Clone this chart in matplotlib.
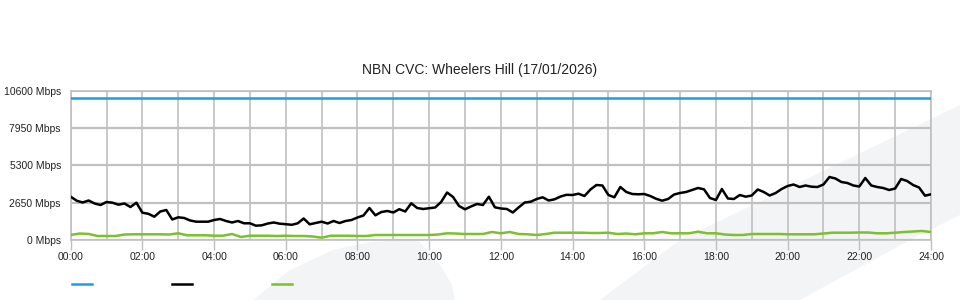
import numpy as np
import matplotlib
matplotlib.use("Agg")
import matplotlib.pyplot as plt
from matplotlib.patches import Polygon

# データ (Mbps)
title = "NBN CVC: Wheelers Hill (17/01/2026)"
capacity = 10050
ytick_vals = [0, 2650, 5300, 7950, 10600]
xtick_labels = ["00:00", "02:00", "04:00", "06:00", "08:00", "10:00", "12:00",
                "14:00", "16:00", "18:00", "20:00", "22:00", "24:00"]

# 10分毎のトラフィック
traffic = [3074, 2790, 2663, 2805, 2592, 2485, 2698, 2648, 2506, 2592,
           2343, 2648, 1938, 1860, 1654, 2024, 2130, 1456, 1612, 1562,
           1385, 1300, 1300, 1300, 1420, 1491, 1349, 1243, 1349, 1186,
           1186, 1015, 1044, 1172, 1243, 1157, 1122, 1079, 1186, 1527,
           1115, 1207, 1300, 1172, 1349, 1207, 1349, 1420, 1598, 1740,
           2272, 1754, 1988, 2059, 1953, 2187, 2024, 2606, 2272, 2201,
           2251, 2308, 2698, 3373, 3053, 2414, 2180, 2379, 2556, 2485,
           3074, 2322, 2237, 2201, 1953, 2322, 2663, 2719, 2911, 3032,
           2805, 2890, 3089, 3209, 3195, 3287, 3124, 3586, 3905, 3870,
           3195, 3032, 3763, 3408, 3266, 3245, 3266, 3124, 2925, 2790,
           2911, 3231, 3337, 3408, 3550, 3692, 3600, 2982, 2840, 3621,
           2947, 2911, 3195, 3074, 3160, 3586, 3408, 3160, 3337, 3621,
           3834, 3941, 3763, 3870, 3784, 3763, 3941, 4473, 4367, 4118,
           4047, 3870, 3799, 4402, 3870, 3763, 3692, 3550, 3657, 4331,
           4189, 3905, 3728, 3145, 3245]

# 15分毎の上り
upload = [355, 460, 430, 284, 284, 284, 390, 405, 405, 405,
          405, 390, 476, 334, 334, 334, 305, 305, 426, 213,
          305, 305, 305, 284, 305, 284, 284, 250, 163, 305,
          305, 305, 284, 284, 355, 355, 355, 355, 355, 355,
          355, 390, 476, 460, 426, 426, 426, 568, 476, 568,
          426, 405, 355, 426, 518, 518, 518, 518, 497, 497,
          518, 426, 460, 405, 476, 476, 568, 476, 476, 476,
          590, 476, 476, 390, 355, 355, 426, 426, 426, 426,
          405, 405, 405, 405, 460, 518, 518, 518, 533, 533,
          476, 476, 518, 568, 604, 639, 568]

t_traffic = np.linspace(0, 24, len(traffic))
t_upload = np.linspace(0, 24, len(upload))

plt.rcParams["font.family"] = ["Liberation Sans", "DejaVu Sans"]

fig = plt.figure(figsize=(9.6, 3.0), dpi=100)
fig.patch.set_facecolor("white")

# 背景の透かし
wm = "#f3f4f6"
fig.add_artist(Polygon([(253/960, 0), (290/960, 30/300), (333/960, 50/300),
                        (370/960, 58/300), (417/960, 61/300), (440/960, 35/300),
                        (452/960, 15/300), (455/960, 0)],
                       closed=True, transform=fig.transFigure, fc=wm, ec="none", zorder=0))
fig.add_artist(Polygon([(600/960, 0), (680/960, 60/300), (1.0, 195/300),
                        (1.0, 85/300), (910/960, 60/300), (800/960, 0)],
                       closed=True, transform=fig.transFigure, fc=wm, ec="none", zorder=0))

ax = fig.add_axes([70.7/960, 60/300, 860.3/960, 149.3/300])
ax.patch.set_alpha(0)

grid_c = "#c0c0c0"
l_cap, = ax.plot([0, 24], [capacity, capacity], color="#1c9fe2", lw=1.8, zorder=3)
l_tr, = ax.plot(t_traffic, traffic, color="black", lw=1.8, zorder=4)
l_up, = ax.plot(t_upload, upload, color="#7cc02c", lw=1.8, zorder=3)

ax.set_xlim(0, 24)
ax.set_ylim(0, 10600)
ax.set_xticks(np.arange(0, 25, 2))
ax.set_xticklabels(xtick_labels)
ax.set_xticks(np.arange(1, 24, 2), minor=True)
ax.set_yticks(ytick_vals)
ax.set_yticklabels([f"{v} Mbps" for v in ytick_vals])

ax.grid(True, which="both", axis="x", color=grid_c, lw=1.2)
ax.grid(True, which="major", axis="y", color=grid_c, lw=1.6)
ax.set_axisbelow(True)

for s in ax.spines.values():
  s.set_color(grid_c)
  s.set_linewidth(1.2)

ax.tick_params(axis="x", which="major", length=7.5, width=1.0, color=grid_c, pad=1.5,
               labelsize=7.5, labelcolor="#222222")
ax.tick_params(axis="x", which="minor", length=0)
ax.tick_params(axis="y", length=0, pad=7, labelsize=7.5, labelcolor="#222222")

fig.text(0.5, (300 - 70) / 300, title, ha="center", va="center", fontsize=10, color="#222222")

# 凡例 (ラベルなし)
fig.legend([l_cap, l_tr, l_up], ["", "", ""], loc="center left",
           bbox_to_anchor=(66/960, 15/300), ncol=3, frameon=False, fontsize=8,
           handlelength=1.8, handletextpad=0, columnspacing=7.2, borderpad=0)

fig.savefig("out.png", dpi=100)
